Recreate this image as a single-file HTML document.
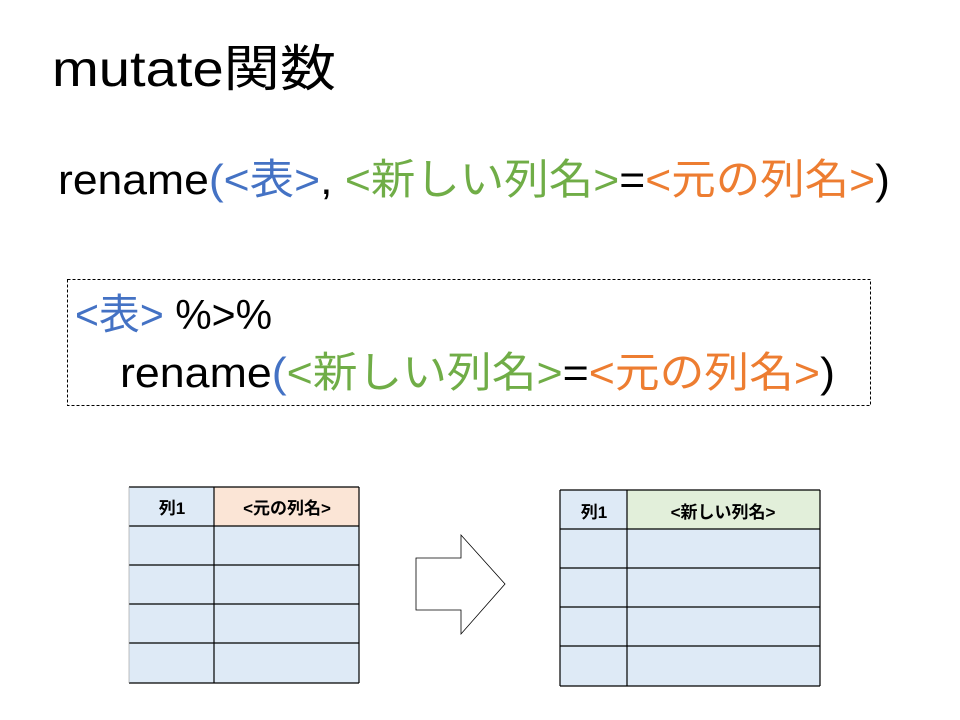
<!DOCTYPE html>
<html><head><meta charset="utf-8"><style>
html,body{margin:0;padding:0;background:#fff;}
svg{display:block;}
text{font-family:"Liberation Sans","Noto Sans CJK JP",sans-serif;}
</style></head><body>
<svg width="960" height="720" viewBox="0 0 960 720" xmlns="http://www.w3.org/2000/svg">
<text x="52" y="86" font-size="50" textLength="284" lengthAdjust="spacingAndGlyphs" fill="#000">mutate関数</text>
<text x="58" y="194" font-size="42" textLength="832" lengthAdjust="spacingAndGlyphs" fill="#000">rename<tspan fill="#4472C4">(&lt;表&gt;</tspan>, <tspan fill="#70AD47">&lt;新しい列名&gt;</tspan>=<tspan fill="#ED7D31">&lt;元の列名&gt;</tspan>)</text>
<rect x="67.5" y="279.5" width="803" height="126" fill="none" stroke="#000" stroke-width="1" stroke-dasharray="3,2"/>
<text x="75" y="329" font-size="42" textLength="197" lengthAdjust="spacingAndGlyphs" fill="#000"><tspan fill="#4472C4">&lt;表&gt;</tspan> %&gt;%</text>
<text x="120" y="387" font-size="42" textLength="715" lengthAdjust="spacingAndGlyphs" fill="#000">rename<tspan fill="#4472C4">(</tspan><tspan fill="#70AD47">&lt;新しい列名&gt;</tspan>=<tspan fill="#ED7D31">&lt;元の列名&gt;</tspan>)</text>
<!-- left table -->
<rect x="129" y="487" width="85" height="39" fill="#DEEAF6"/>
<rect x="214" y="487" width="145" height="39" fill="#FBE5D6"/>
<rect x="129" y="526" width="230" height="157" fill="#DEEAF6"/>
<g stroke="#000" stroke-width="1.2" fill="none">
<line x1="129" y1="487" x2="359" y2="487"/><line x1="129" y1="526" x2="359" y2="526"/>
<line x1="129" y1="565" x2="359" y2="565"/><line x1="129" y1="604" x2="359" y2="604"/>
<line x1="129" y1="643" x2="359" y2="643"/><line x1="129" y1="683" x2="359" y2="683"/>
<line x1="214" y1="487" x2="214" y2="683"/><line x1="359" y1="487" x2="359" y2="683"/>
<line x1="129" y1="487" x2="129" y2="683" stroke="#999" stroke-width="0.6"/>
</g>
<text x="172" y="514" font-size="17" font-weight="bold" text-anchor="middle">列1</text>
<text x="287" y="514" font-size="17" font-weight="bold" text-anchor="middle">&lt;元の列名&gt;</text>
<!-- arrow -->
<polygon points="416,558 461,558 461,535 505,584 461,634 461,610 416,610" fill="#fff" stroke="#000" stroke-width="0.8"/>
<!-- right table -->
<rect x="560" y="490" width="67" height="39" fill="#DEEAF6"/>
<rect x="627" y="490" width="193" height="39" fill="#E2EFDA"/>
<rect x="560" y="529" width="260" height="157" fill="#DEEAF6"/>
<g stroke="#000" stroke-width="1.2" fill="none">
<line x1="560" y1="490" x2="820" y2="490"/><line x1="560" y1="529" x2="820" y2="529"/>
<line x1="560" y1="568" x2="820" y2="568"/><line x1="560" y1="607" x2="820" y2="607"/>
<line x1="560" y1="646" x2="820" y2="646"/><line x1="560" y1="686" x2="820" y2="686"/>
<line x1="627" y1="490" x2="627" y2="686"/><line x1="820" y1="490" x2="820" y2="686"/>
<line x1="560" y1="490" x2="560" y2="686"/>
</g>
<text x="594" y="518" font-size="17" font-weight="bold" text-anchor="middle">列1</text>
<text x="723" y="518" font-size="17" font-weight="bold" text-anchor="middle">&lt;新しい列名&gt;</text>
</svg>
</body></html>
